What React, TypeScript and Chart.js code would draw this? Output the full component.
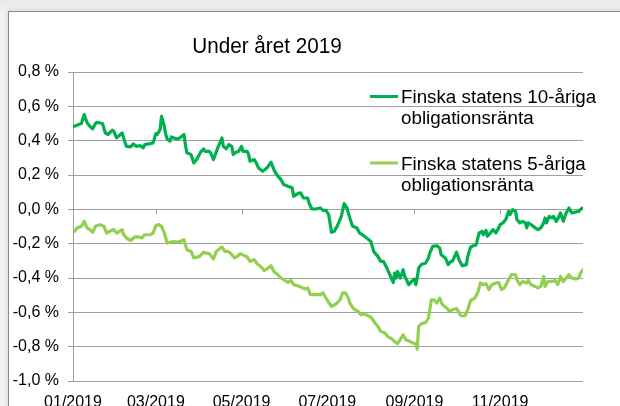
import React, { useEffect, useRef } from "react";
import { Chart, registerables } from "chart.js";

Chart.register(...registerables);

const TITLE = "Under året 2019";
const FONT = '"Liberation Sans", Arial, Helvetica, sans-serif';
const DARK = "#00b050";
const LIGHT = "#92d050";
const GRID = "#9f9f9f";

const tickDays = [0, 59, 120, 181, 243, 304];
const tickLabels = ["01/2019", "03/2019", "05/2019", "07/2019", "09/2019", "11/2019"];

const tenYearLabel = ["Finska statens 10-åriga", "obligationsränta"];
const fiveYearLabel = ["Finska statens 5-åriga", "obligationsränta"];

const tenYearDays = [
  1, 4, 6, 8, 10, 12, 14, 16, 17, 21, 23, 25, 28, 29, 31, 35, 36, 38, 41, 43, 45, 48, 50, 51, 55, 57,
  59, 60, 62, 63, 65, 66, 67, 69, 70, 74, 76, 79, 80, 81, 84, 86, 88, 91, 93, 94, 97, 98, 100, 103,
  104, 106, 107, 109, 111, 113, 114, 116, 118, 120, 121, 124, 125, 126, 129, 131, 132, 135, 138, 141,
  143, 145, 148, 150, 153, 156, 157, 160, 162, 164, 167, 168, 170, 173, 176, 178, 180, 182, 184, 186,
  188, 191, 193, 195, 197, 199, 202, 204, 206, 209, 212, 214, 217, 219, 221, 224, 226, 228, 229, 230,
  231, 233, 235, 236, 239, 241, 243, 244, 245, 246, 248, 251, 253, 254, 256, 259, 261, 262, 265, 267,
  269, 270, 273, 275, 277, 280, 281, 283, 285, 287, 289, 291, 292, 294, 295, 297, 299, 301, 303, 304,
  306, 308, 310, 311, 313, 315, 316, 318, 320, 322, 323, 324, 326, 329, 331, 333, 335, 336, 337, 339,
  341, 342, 344, 346, 347, 349, 351, 353, 355, 357, 360, 361, 363,
];
const tenYearValues = [
  0.484, 0.494, 0.5, 0.552, 0.504, 0.484, 0.469, 0.5, 0.507, 0.5, 0.445, 0.436, 0.461, 0.455, 0.416,
  0.445, 0.416, 0.367, 0.364, 0.381, 0.367, 0.371, 0.358, 0.377, 0.383, 0.387,
  0.441, 0.436, 0.465, 0.542, 0.484, 0.436, 0.41, 0.397, 0.422, 0.41, 0.416, 0.436, 0.377, 0.329,
  0.319, 0.27, 0.29, 0.335, 0.352, 0.338, 0.338, 0.329, 0.29, 0.358,
  0.377, 0.416, 0.367, 0.352, 0.377, 0.367, 0.319, 0.332, 0.338, 0.367, 0.338, 0.338, 0.319, 0.28,
  0.29, 0.261, 0.241, 0.222, 0.241, 0.274,
  0.231, 0.202, 0.173, 0.144, 0.134, 0.125, 0.076, 0.092, 0.096, 0.066, 0.066, 0.037, 0.002, 0.002,
  0.008, -0.006, -0.006, -0.031, -0.134, -0.128,
  -0.099, -0.041, 0.033, 0.008, -0.05, -0.099, -0.108, -0.138, -0.148, -0.167, -0.187, -0.245, -0.274,
  -0.303, -0.303, -0.352, -0.391, -0.426, -0.371, -0.4,
  -0.362, -0.4, -0.352, -0.387, -0.439, -0.42, -0.406, -0.439, -0.4, -0.342, -0.322, -0.313, -0.283,
  -0.254, -0.216, -0.212, -0.225, -0.264, -0.283, -0.322,
  -0.303, -0.303, -0.25, -0.298, -0.328, -0.322, -0.274, -0.219, -0.212, -0.206, -0.138, -0.128, -0.148,
  -0.122, -0.157, -0.138, -0.118, -0.138, -0.108, -0.089,
  -0.079, -0.06, -0.012, -0.031, -0.002, -0.012, -0.06, -0.079, -0.07, -0.079, -0.108, -0.079, -0.089,
  -0.108, -0.118, -0.108, -0.079, -0.05, -0.079, -0.041,
  -0.05, -0.041, -0.07, -0.041, -0.021, -0.07, -0.021, 0.008, -0.021, -0.017, -0.012, -0.002, 0.008,
];

const fiveYearDays = [
  1, 3, 6, 8, 10, 12, 14, 16, 19, 22, 24, 26, 29, 31, 35, 36, 39, 41, 44, 47, 49, 51, 55, 57, 59, 61,
  63, 65, 67, 69, 72, 74, 76, 79, 81, 84, 86, 90, 93, 94, 97, 100, 102, 105, 106, 108, 110, 112, 115,
  117, 119, 122, 124, 126, 129, 131, 134, 136, 138, 141, 143, 145, 148, 150, 153, 155, 157, 160, 162,
  165, 167, 169, 173, 176, 178, 180, 184, 186, 188, 190, 192, 194, 196, 197, 200, 203, 205, 207, 210,
  212, 215, 217, 219, 222, 224, 226, 229, 231, 232, 235, 237, 240, 242, 244, 245, 246, 248, 251, 253,
  254, 255, 257, 259, 261, 263, 266, 268, 270, 273, 275, 276, 279, 281, 283, 286, 288, 290, 292, 294,
  296, 298, 301, 303, 305, 307, 310, 312, 315, 316, 318, 320, 323, 324, 326, 329, 331, 333, 335, 336,
  338, 341, 343, 345, 347, 349, 351, 353, 355, 358, 360, 361, 363,
];
const fiveYearValues = [
  -0.128, -0.108, -0.099, -0.07, -0.108, -0.118, -0.134, -0.099, -0.089, -0.099, -0.138, -0.128, -0.118,
  -0.138, -0.118, -0.148, -0.173, -0.181, -0.161, -0.161, -0.167, -0.148, -0.148, -0.138, -0.095, -0.089,
  -0.099, -0.138, -0.196, -0.192, -0.187, -0.192, -0.187, -0.177, -0.235, -0.245, -0.283, -0.274, -0.25,
  -0.254, -0.258, -0.289, -0.245, -0.225, -0.219, -0.245, -0.245, -0.254, -0.283,
  -0.274, -0.258, -0.27, -0.278, -0.303, -0.293, -0.317, -0.336, -0.356, -0.348, -0.328, -0.362, -0.375,
  -0.4, -0.41, -0.426, -0.414, -0.439, -0.445, -0.452,
  -0.464, -0.458, -0.497, -0.497, -0.497, -0.487, -0.517, -0.566, -0.556, -0.546, -0.527, -0.487, -0.487,
  -0.517, -0.546, -0.581, -0.595, -0.614, -0.608, -0.62,
  -0.627, -0.662, -0.682, -0.711, -0.721, -0.741, -0.75, -0.77, -0.783, -0.77, -0.731, -0.76, -0.77,
  -0.779, -0.783, -0.814, -0.682, -0.666, -0.659, -0.633,
  -0.585, -0.527, -0.527, -0.546, -0.517, -0.556, -0.575, -0.595, -0.585, -0.578, -0.605, -0.62, -0.62,
  -0.585, -0.531, -0.517, -0.487, -0.429, -0.439, -0.433,
  -0.468, -0.439, -0.429, -0.426, -0.468, -0.458, -0.41, -0.381, -0.381, -0.41, -0.439, -0.42, -0.429,
  -0.414, -0.439, -0.449, -0.458, -0.449, -0.391, -0.449,
  -0.42, -0.42, -0.414, -0.439, -0.391, -0.42, -0.4, -0.381, -0.4, -0.406, -0.4, -0.375, -0.352,
];

const formatPct = (v: number) => {
  const r = Math.round(v * 10) / 10;
  return (r === 0 ? 0 : r).toFixed(1).replace(".", ",") + " %";
};

const overlayPlugin = {
  id: "overlay",
  beforeDatasetsDraw(chart: any) {
    const ctx = chart.ctx;
    const xs = chart.scales.x;
    const ys = chart.scales.y;
    const y0 = ys.getPixelForValue(0);
    ctx.save();
    ctx.strokeStyle = GRID;
    ctx.lineWidth = 1;
    ctx.beginPath();
    tickDays.forEach((d) => {
      const px = Math.round(xs.getPixelForValue(d)) + 0.5;
      ctx.moveTo(px, y0);
      ctx.lineTo(px, y0 + 5);
    });
    ctx.stroke();
    ctx.restore();
  },
  afterDraw(chart: any) {
    const ctx = chart.ctx;
    ctx.save();
    ctx.fillStyle = "#000";
    ctx.font = `22.5px ${FONT}`;
    ctx.textAlign = "center";
    ctx.textBaseline = "middle";
    ctx.translate(267, 47);
    ctx.scale(0.92, 1);
    ctx.fillText(TITLE, 0, 0);
    ctx.restore();

    ctx.save();
    const entries = [
      { lines: tenYearLabel, color: DARK, y: 96.5 },
      { lines: fiveYearLabel, color: LIGHT, y: 163 },
    ];
    ctx.font = `18.8px ${FONT}`;
    ctx.fillStyle = "#000";
    ctx.textAlign = "left";
    ctx.textBaseline = "alphabetic";
    entries.forEach((e) => {
      ctx.strokeStyle = e.color;
      ctx.lineWidth = 3;
      ctx.beginPath();
      ctx.moveTo(370, e.y);
      ctx.lineTo(398, e.y);
      ctx.stroke();
      e.lines.forEach((t, i) => {
        ctx.fillText(t, 401, e.y + 6.8 + i * 21);
      });
    });
    ctx.restore();
  },
};

export default function App() {
  const ref = useRef<HTMLCanvasElement>(null);
  useEffect(() => {
    const canvas = ref.current!;
    Chart.defaults.font.family = FONT;
    Chart.defaults.color = "#000";
    const chart = new Chart(canvas, {
      type: "line",
      data: {
        datasets: [
          {
            label: tenYearLabel.join(" "),
            data: tenYearDays.map((d, i) => ({ x: d, y: tenYearValues[i] })),
            borderColor: DARK,
            backgroundColor: DARK,
            borderWidth: 3.2,
            pointRadius: 0,
            tension: 0,
            borderJoinStyle: "round",
            borderCapStyle: "round",
            fill: false,
          },
          {
            label: fiveYearLabel.join(" "),
            data: fiveYearDays.map((d, i) => ({ x: d, y: fiveYearValues[i] })),
            borderColor: LIGHT,
            backgroundColor: LIGHT,
            borderWidth: 3.2,
            pointRadius: 0,
            tension: 0,
            borderJoinStyle: "round",
            borderCapStyle: "round",
            fill: false,
          },
        ],
      },
      options: {
        responsive: false,
        animation: false,
        devicePixelRatio: 1,
        layout: { padding: { left: 0, top: 72, right: 37, bottom: 29 } },
        plugins: {
          legend: { display: false },
          title: { display: false },
          tooltip: { enabled: false },
        },
        scales: {
          x: {
            type: "linear",
            min: 0,
            max: 363,
            grid: { display: false, drawTicks: false },
            border: { display: false },
            ticks: {
              padding: 12,
              autoSkip: false,
              maxRotation: 0,
              color: "#000",
              font: { size: 16, family: FONT },
              callback: (v: any) => {
                const i = tickDays.indexOf(Number(v));
                return i >= 0 ? tickLabels[i] : "";
              },
            },
            afterBuildTicks: (s: any) => {
              s.ticks = tickDays.map((value) => ({ value }));
            },
            afterFit: (s: any) => {
              s.height = 30;
            },
          },
          y: {
            min: -1,
            max: 0.8,
            ticks: {
              stepSize: 0.2,
              padding: 9,
              color: "#000",
              font: { size: 16, family: FONT },
              callback: (v: any) => formatPct(Number(v)),
            },
            grid: { color: GRID, lineWidth: 1, tickLength: 5, drawTicks: true },
            border: { color: GRID, width: 1 },
            afterFit: (s: any) => {
              s.width = 73;
            },
          },
        },
      },
      plugins: [overlayPlugin],
    } as any);
    return () => chart.destroy();
  }, []);

  return (
    <div
      style={{
        position: "fixed",
        left: 0,
        top: 0,
        width: 620,
        height: 406,
        overflow: "hidden",
        background: "linear-gradient(to bottom, #e9e9e9, #f3f3f3 12px)",
      }}
    >
      <div
        style={{
          position: "absolute",
          left: 8,
          top: 11,
          width: 640,
          height: 420,
          background: "#fff",
          borderLeft: "1px solid #8a8a8a",
          borderTop: "1px solid #8a8a8a",
          boxShadow: "-2px -2px 4px rgba(0,0,0,0.08)",
        }}
      />
      <canvas
        ref={ref}
        width={620}
        height={440}
        style={{ position: "absolute", left: 0, top: 0, width: 620, height: 440 }}
      />
    </div>
  );
}
